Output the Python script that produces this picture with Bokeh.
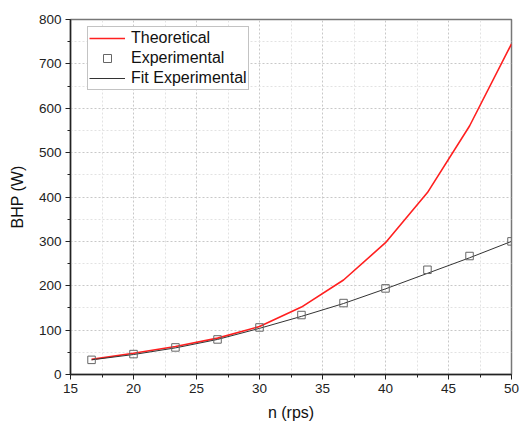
from bokeh.plotting import figure
from bokeh.embed import file_html
from bokeh.resources import INLINE
from bokeh.models import Legend, LegendItem, FixedTicker, Range1d

n_rps = [16.67, 20.0, 23.33, 26.67, 30.0, 33.33, 36.67, 40.0, 43.33, 46.67, 50.0]
theoretical = [34, 48, 63, 82, 108, 152, 213, 297, 410, 560, 745]
experimental = [33, 46, 61, 79, 106, 134, 161, 194, 236, 267, 300]
fit_experimental = [33, 45, 60, 79, 104, 131, 160, 193, 228, 263, 300]

x_ticks = [15, 20, 25, 30, 35, 40, 45, 50]
y_ticks = [0, 100, 200, 300, 400, 500, 600, 700, 800]

FONT = "Liberation Sans"

p = figure(width=521, height=423, output_backend="svg", toolbar_location=None,
           x_range=Range1d(15, 50), y_range=Range1d(0, 800),
           min_border_left=70, min_border_right=10, min_border_top=19, min_border_bottom=47)
p.background_fill_color = "white"
p.border_fill_color = "white"
p.outline_line_color = "#777777"
p.outline_line_width = 1.5

for ax in (p.xaxis[0], p.yaxis[0]):
    ax.major_label_text_font = FONT
    ax.major_label_text_font_size = "13.5px"
    ax.major_label_text_color = "#222222"
    ax.axis_label_text_font = FONT
    ax.axis_label_text_font_size = "16px"
    ax.axis_label_text_font_style = "normal"
    ax.axis_label_text_color = "#111111"
    ax.axis_line_color = "#222222"
    ax.axis_line_width = 1.5
    ax.major_tick_line_color = "#222222"
    ax.minor_tick_line_color = "#222222"
    ax.major_tick_in = 0
    ax.major_tick_out = 5
    ax.minor_tick_in = 0
    ax.minor_tick_out = 3

p.xaxis.axis_label = "n (rps)"
p.yaxis.axis_label = "BHP (W)"
p.xaxis.ticker = FixedTicker(ticks=x_ticks, minor_ticks=[17.5, 22.5, 27.5, 32.5, 37.5, 42.5, 47.5])
p.yaxis.ticker = FixedTicker(ticks=y_ticks, minor_ticks=[50, 150, 250, 350, 450, 550, 650, 750])
p.xaxis.major_label_standoff = 4
p.yaxis.major_label_standoff = 4
p.xaxis.axis_label_standoff = 8
p.yaxis.axis_label_standoff = 10

for g in (p.xgrid[0], p.ygrid[0]):
    g.grid_line_color = "#c8c8c8"
    g.grid_line_dash = "2 2"
    g.grid_line_width = 1
    g.minor_grid_line_color = "#e2e2e2"
    g.minor_grid_line_dash = "2 2"
    g.minor_grid_line_width = 1

r_theo = p.line(n_rps, theoretical, line_color="#ff2020", line_width=1.6)
r_fit = p.line(n_rps, fit_experimental, line_color="#333333", line_width=1)
r_exp = p.scatter(n_rps, experimental, marker="square", size=7.5, fill_color=None,
                  line_color="#666666", line_width=1)

legend = Legend(items=[LegendItem(label="Theoretical", renderers=[r_theo]),
                       LegendItem(label="Experimental", renderers=[r_exp]),
                       LegendItem(label="Fit Experimental", renderers=[r_fit])],
                location=(17, 284))
legend.label_text_font = FONT
legend.label_text_font_size = "16px"
legend.label_text_color = "#111111"
legend.glyph_width = 36
legend.glyph_height = 20
legend.label_height = 20
legend.label_standoff = 6
legend.spacing = 0
legend.padding = 1
legend.margin = 0
legend.border_line_color = "#888888"
legend.border_line_width = 1
legend.background_fill_color = "white"
legend.background_fill_alpha = 1
p.add_layout(legend, "center")

open("out.html", "w").write(file_html(p, INLINE))
